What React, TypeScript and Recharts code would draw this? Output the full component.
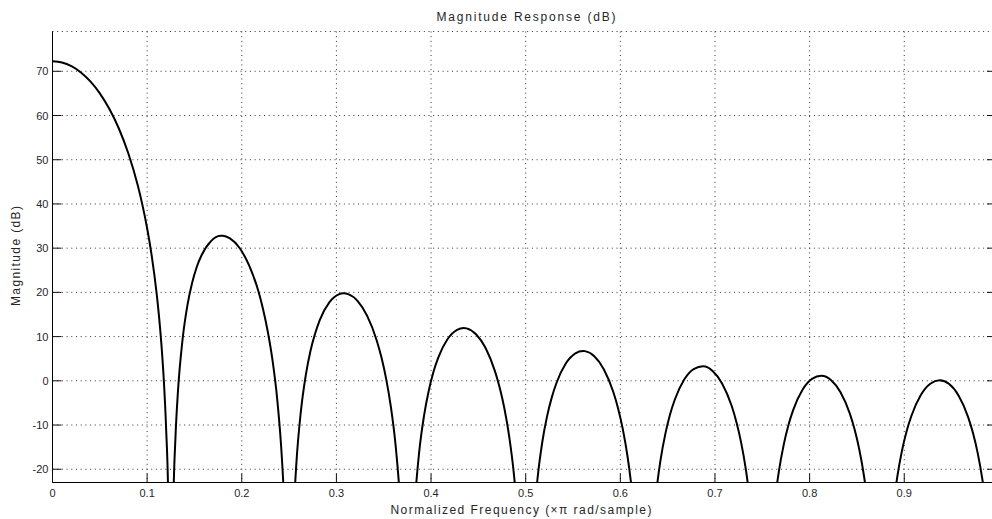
import { LineChart, Line, XAxis, YAxis, CartesianGrid } from 'recharts';

// magnitude response, one array per lobe: [freq (xπ rad/sample), dB]
// points below -23 dB sit under the axis and only carry the curve into the nulls (clipped)
const LOBE_1: [number, number][] = [
  [0, 72.25], [0.01, 71.98], [0.02, 71.15], [0.03, 69.74], [0.04, 67.72], [0.05, 65.02],
  [0.06, 61.53], [0.07, 57.12], [0.08, 51.51], [0.09, 44.27], [0.095, 39.79], [0.1, 34.5],
  [0.105, 28.05], [0.11, 19.84], [0.1125, 14.7], [0.115, 8.47], [0.1175, 0.55], [0.12, -10.48],
  [0.1225, -29.0], [0.125, -100],
];
const LOBE_2: [number, number][] = [
  [0.1275, -30.0], [0.13, -12.5], [0.1325, -2.6], [0.1375, 9.5], [0.1425, 17.0], [0.1475, 22.1],
  [0.1525, 25.8], [0.1575, 28.4], [0.1675, 31.6], [0.1775, 32.79], [0.18, 32.8], [0.1875, 32.2],
  [0.1975, 30.1], [0.2075, 26.2], [0.2175, 20.3], [0.2225, 16.2], [0.2275, 11.1], [0.2325, 4.6],
  [0.2375, -4.3], [0.2425, -17.9], [0.245, -28.6], [0.2475, -46.9], [0.25, -100],
];
const LOBE_3: [number, number][] = [
  [0.2525, -47.4], [0.255, -29.6], [0.2575, -19.3], [0.2625, -6.8], [0.2675, 1.1], [0.2725, 6.7],
  [0.2775, 10.7], [0.2825, 13.8], [0.2925, 17.75], [0.3025, 19.55], [0.3075, 19.79], [0.3125, 19.6],
  [0.3225, 18.02], [0.3325, 14.68], [0.3425, 9.19], [0.3475, 5.36], [0.3525, 0.49], [0.3575, -5.83],
  [0.3625, -14.5], [0.3675, -27.9], [0.37, -38.5], [0.3725, -56.7], [0.375, -100],
];
const LOBE_4: [number, number][] = [
  [0.3775, -57.0], [0.38, -39.1], [0.3825, -28.8], [0.3875, -16.0], [0.3925, -8.0], [0.3975, -2.3],
  [0.4025, 2.0], [0.4075, 5.2], [0.4175, 9.45], [0.4275, 11.54], [0.4345, 11.94], [0.4375, 11.86],
  [0.4475, 10.54], [0.4575, 7.46], [0.4675, 2.19], [0.4725, -1.52], [0.4775, -6.27], [0.4825, -12.5],
  [0.4875, -21.05], [0.4925, -34.3], [0.495, -44.9], [0.4975, -63.0], [0.5, -100],
];
const LOBE_5: [number, number][] = [
  [0.5025, -63.2], [0.505, -45.3], [0.5075, -34.9], [0.5125, -22.1], [0.5175, -13.9], [0.5225, -8.1],
  [0.5275, -3.8], [0.5325, -0.5], [0.5425, 3.96], [0.5525, 6.22], [0.5605, 6.75], [0.5625, 6.71],
  [0.5725, 5.55], [0.5825, 2.62], [0.5925, -2.49], [0.5975, -6.13], [0.6025, -10.81], [0.6075, -16.95],
  [0.6125, -25.44], [0.6175, -38.6], [0.62, -49.2], [0.6225, -67.3], [0.625, -100],
];
const LOBE_6: [number, number][] = [
  [0.6275, -67.4], [0.63, -49.5], [0.6325, -39.0], [0.6375, -26.1], [0.6425, -17.9], [0.6475, -12.05],
  [0.6525, -7.64], [0.6575, -4.28], [0.6675, 0.29], [0.6775, 2.66], [0.6875, 3.27], [0.6975, 2.23],
  [0.7075, -0.59], [0.7175, -5.59], [0.7225, -9.18], [0.7275, -13.8], [0.7325, -19.88], [0.7375, -28.3],
  [0.7425, -41.5], [0.745, -52.0], [0.7475, -70.0], [0.75, -100],
];
const LOBE_7: [number, number][] = [
  [0.7525, -70.1], [0.755, -52.1], [0.7575, -41.7], [0.7625, -28.7], [0.7675, -20.5], [0.7725, -14.6],
  [0.7775, -10.1], [0.7825, -6.69], [0.7925, -2.03], [0.8025, 0.44], [0.8125, 1.15], [0.8225, 0.2],
  [0.8325, -2.53], [0.8425, -7.43], [0.8475, -10.97], [0.8525, -15.55], [0.8575, -21.59], [0.8625, -30.0],
  [0.8675, -43.1], [0.87, -53.6], [0.8725, -71.6], [0.875, -100],
];
const LOBE_8: [number, number][] = [
  [0.8775, -71.6], [0.88, -53.7], [0.8825, -43.2], [0.8875, -30.2], [0.8925, -21.9], [0.8975, -15.9],
  [0.9025, -11.4], [0.9075, -7.96], [0.9175, -3.22], [0.9275, -0.66], [0.9375, 0.13], [0.9475, -0.74],
  [0.9575, -3.38], [0.9675, -8.21], [0.9725, -11.71], [0.9775, -16.24], [0.9825, -22.24], [0.9875, -30.6],
  [0.9925, -43.6], [0.995, -54.1], [0.9975, -72.1],
];

const X_TICKS = [0, 0.1, 0.2, 0.3, 0.4, 0.5, 0.6, 0.7, 0.8, 0.9];
const Y_TICKS = [-20, -10, 0, 10, 20, 30, 40, 50, 60, 70];

const TITLE = 'Magnitude Response (dB)';
const X_LABEL = 'Normalized Frequency (\u00d7\u03c0 rad/sample)';
const Y_LABEL = 'Magnitude (dB)';

const data = [LOBE_1, LOBE_2, LOBE_3, LOBE_4, LOBE_5, LOBE_6, LOBE_7, LOBE_8]
  .flat()
  .map(([f, db]) => ({ f, db }));

const FONT = '"Liberation Sans", Arial, Helvetica, sans-serif';
const TICK_LEN = 9;
const TEXT = '#262626';

const BottomTick = ({ x, y, payload }: any) => (
  <g>
    <line x1={x} y1={y} x2={x} y2={y - TICK_LEN} stroke="#111" />
    <text x={x} y={y + 14.5} textAnchor="middle" fontSize={11} fontFamily={FONT} fill={TEXT}>
      {payload.value}
    </text>
  </g>
);

const TopTick = ({ x, y }: any) => (
  <line x1={x} y1={y} x2={x} y2={y + TICK_LEN} stroke="#111" />
);

const LeftTick = ({ x, y, payload }: any) => (
  <g>
    <line x1={x} y1={y} x2={x + TICK_LEN} y2={y} stroke="#111" />
    <text x={x - 4} y={y + 4} textAnchor="end" fontSize={11} fontFamily={FONT} fill={TEXT}>
      {payload.value}
    </text>
  </g>
);

const RightTick = ({ x, y }: any) => (
  <line x1={x} y1={y} x2={x - TICK_LEN - 1} y2={y} stroke="#111" />
);

export default function App() {
  return (
    <div style={{ position: 'fixed', left: 0, top: 0, width: 992, height: 519, overflow: 'hidden', background: '#fff' }}>
      <LineChart width={1000} height={519} data={data} margin={{ top: 31.5, right: 0, bottom: 6.5, left: 0.5 }}>
        <CartesianGrid stroke="#333" strokeDasharray="1 3.7" />
        <XAxis
          dataKey="f"
          type="number"
          domain={[0, 0.998]}
          allowDataOverflow
          ticks={X_TICKS}
          height={30}
          stroke="#000"
          tickLine={false}
          tickSize={0}
          tickMargin={0}
          tick={<BottomTick />}
          interval={0}
        />
        <XAxis
          xAxisId="top"
          orientation="top"
          dataKey="f"
          type="number"
          domain={[0, 0.998]}
          allowDataOverflow
          ticks={X_TICKS}
          height={0}
          stroke="#000"
          tickLine={false}
          tickSize={0}
          tickMargin={0}
          tick={<TopTick />}
          interval={0}
        />
        <YAxis
          type="number"
          domain={[-23, 79]}
          allowDataOverflow
          ticks={Y_TICKS}
          width={52}
          stroke="#000"
          tickLine={false}
          tickSize={0}
          tickMargin={0}
          tick={<LeftTick />}
          interval={0}
        />
        <YAxis
          yAxisId="right"
          orientation="right"
          type="number"
          domain={[-23, 79]}
          allowDataOverflow
          ticks={Y_TICKS}
          width={3}
          stroke="#000"
          tickLine={false}
          tickSize={0}
          tickMargin={0}
          tick={<RightTick />}
          interval={0}
        />
        <Line
          type="monotone"
          dataKey="db"
          stroke="#000"
          strokeWidth={2}
          dot={false}
          activeDot={false}
          isAnimationActive={false}
        />
      </LineChart>
      <svg
        width={992}
        height={519}
        style={{ position: 'absolute', left: 0, top: 0, pointerEvents: 'none' }}
      >
        <text x={526} y={21} textAnchor="middle" fontSize={12} fontFamily={FONT} fill={TEXT} textLength={179}>
          {TITLE}
        </text>
        <text x={521} y={514} textAnchor="middle" fontSize={12} fontFamily={FONT} fill={TEXT} textLength={261}>
          {X_LABEL}
        </text>
        <text
          x={0}
          y={0}
          transform="translate(20,256) rotate(-90)"
          textAnchor="middle"
          fontSize={12}
          fontFamily={FONT}
          fill={TEXT}
          textLength={100}
        >
          {Y_LABEL}
        </text>
      </svg>
    </div>
  );
}
